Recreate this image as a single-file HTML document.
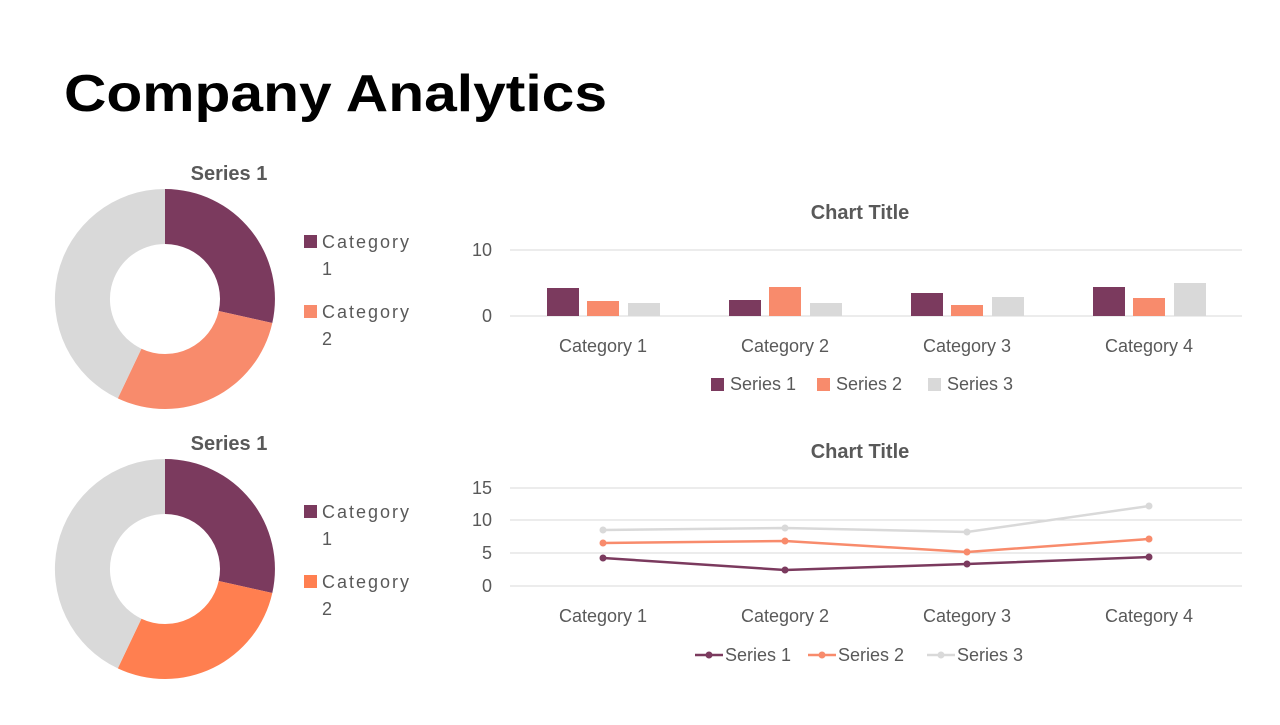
<!DOCTYPE html><html><head><meta charset="utf-8"><style>
body{margin:0;width:1280px;height:720px;background:#fff;overflow:hidden;font-family:"Liberation Sans",sans-serif}
</style></head><body>
<svg width="1280" height="720" viewBox="0 0 1280 720" xmlns="http://www.w3.org/2000/svg" font-family="Liberation Sans, sans-serif">
<text x="64" y="111" font-size="52" font-weight="bold" fill="#000" textLength="543" lengthAdjust="spacingAndGlyphs">Company Analytics</text>
<g id="d1">
<text x="229" y="180" font-size="20" font-weight="bold" fill="#595959" text-anchor="middle">Series 1</text>
<path d="M165,189 A110,110 0 0 1 272.3,323 L218.7,311 A55,55 0 0 0 165,244 Z" fill="#7B3A5E"/>
<path d="M272.3,323 A110,110 0 0 1 117.8,398.4 L141.4,348.7 A55,55 0 0 0 218.7,311 Z" fill="#F88B6C"/>
<path d="M117.8,398.4 A110,110 0 0 1 165,189 L165,244 A55,55 0 0 0 141.4,348.7 Z" fill="#D9D9D9"/>
<rect x="304" y="235" width="13" height="13" fill="#7B3A5E"/>
<text x="322" y="248" font-size="18" fill="#595959" textLength="87">Category</text>
<text x="322" y="275" font-size="18" fill="#595959">1</text>
<rect x="304" y="305" width="13" height="13" fill="#F88B6C"/>
<text x="322" y="318" font-size="18" fill="#595959" textLength="87">Category</text>
<text x="322" y="345" font-size="18" fill="#595959">2</text>
</g>
<g transform="translate(0,270)">
<text x="229" y="180" font-size="20" font-weight="bold" fill="#595959" text-anchor="middle">Series 1</text>
<path d="M165,189 A110,110 0 0 1 272.3,323 L218.7,311 A55,55 0 0 0 165,244 Z" fill="#7B3A5E"/>
<path d="M272.3,323 A110,110 0 0 1 117.8,398.4 L141.4,348.7 A55,55 0 0 0 218.7,311 Z" fill="#FF7F50"/>
<path d="M117.8,398.4 A110,110 0 0 1 165,189 L165,244 A55,55 0 0 0 141.4,348.7 Z" fill="#D9D9D9"/>
<rect x="304" y="235" width="13" height="13" fill="#7B3A5E"/>
<text x="322" y="248" font-size="18" fill="#595959" textLength="87">Category</text>
<text x="322" y="275" font-size="18" fill="#595959">1</text>
<rect x="304" y="305" width="13" height="13" fill="#FF7F50"/>
<text x="322" y="318" font-size="18" fill="#595959" textLength="87">Category</text>
<text x="322" y="345" font-size="18" fill="#595959">2</text>
</g>
<!-- bar chart -->
<text x="860" y="219" font-size="20" font-weight="bold" fill="#595959" text-anchor="middle">Chart Title</text>
<line x1="510" y1="250" x2="1242" y2="250" stroke="#D9D9D9"/>
<line x1="510" y1="316" x2="1242" y2="316" stroke="#D9D9D9"/>
<text x="492" y="256" font-size="18" fill="#595959" text-anchor="end">10</text>
<text x="492" y="322" font-size="18" fill="#595959" text-anchor="end">0</text>
<g>
<rect x="547" y="288" width="32" height="28" fill="#7B3A5E"/><rect x="587" y="301" width="32" height="15" fill="#F88B6C"/><rect x="628" y="303" width="32" height="13" fill="#D9D9D9"/>
<rect x="729" y="300" width="32" height="16" fill="#7B3A5E"/><rect x="769" y="287" width="32" height="29" fill="#F88B6C"/><rect x="810" y="303" width="32" height="13" fill="#D9D9D9"/>
<rect x="911" y="293" width="32" height="23" fill="#7B3A5E"/><rect x="951" y="305" width="32" height="11" fill="#F88B6C"/><rect x="992" y="297" width="32" height="19" fill="#D9D9D9"/>
<rect x="1093" y="287" width="32" height="29" fill="#7B3A5E"/><rect x="1133" y="298" width="32" height="18" fill="#F88B6C"/><rect x="1174" y="283" width="32" height="33" fill="#D9D9D9"/>
</g>
<g font-size="18" fill="#595959" text-anchor="middle">
<text x="603" y="352">Category 1</text><text x="785" y="352">Category 2</text><text x="967" y="352">Category 3</text><text x="1149" y="352">Category 4</text>
</g>
<rect x="711" y="378" width="13" height="13" fill="#7B3A5E"/><text x="730" y="390" font-size="18" fill="#595959">Series 1</text>
<rect x="817" y="378" width="13" height="13" fill="#F88B6C"/><text x="836" y="390" font-size="18" fill="#595959">Series 2</text>
<rect x="928" y="378" width="13" height="13" fill="#D9D9D9"/><text x="947" y="390" font-size="18" fill="#595959">Series 3</text>
<!-- line chart -->
<text x="860" y="458" font-size="20" font-weight="bold" fill="#595959" text-anchor="middle">Chart Title</text>
<g stroke="#D9D9D9">
<line x1="510" y1="488" x2="1242" y2="488"/><line x1="510" y1="520" x2="1242" y2="520"/><line x1="510" y1="553" x2="1242" y2="553"/><line x1="510" y1="586" x2="1242" y2="586"/>
</g>
<g font-size="18" fill="#595959" text-anchor="end">
<text x="492" y="494">15</text><text x="492" y="526">10</text><text x="492" y="559">5</text><text x="492" y="592">0</text>
</g>
<g fill="none" stroke-width="2.5">
<polyline points="603,530 785,528 967,532 1149,506" stroke="#D9D9D9"/>
<polyline points="603,543 785,541 967,552 1149,539" stroke="#F88B6C"/>
<polyline points="603,558 785,570 967,564 1149,557" stroke="#7B3A5E"/>
</g>
<g fill="#D9D9D9"><circle cx="603" cy="530" r="3.5"/><circle cx="785" cy="528" r="3.5"/><circle cx="967" cy="532" r="3.5"/><circle cx="1149" cy="506" r="3.5"/></g>
<g fill="#F88B6C"><circle cx="603" cy="543" r="3.5"/><circle cx="785" cy="541" r="3.5"/><circle cx="967" cy="552" r="3.5"/><circle cx="1149" cy="539" r="3.5"/></g>
<g fill="#7B3A5E"><circle cx="603" cy="558" r="3.5"/><circle cx="785" cy="570" r="3.5"/><circle cx="967" cy="564" r="3.5"/><circle cx="1149" cy="557" r="3.5"/></g>
<g font-size="18" fill="#595959" text-anchor="middle">
<text x="603" y="622">Category 1</text><text x="785" y="622">Category 2</text><text x="967" y="622">Category 3</text><text x="1149" y="622">Category 4</text>
</g>
<line x1="695" y1="655" x2="723" y2="655" stroke="#7B3A5E" stroke-width="2.5"/><circle cx="709" cy="655" r="3.5" fill="#7B3A5E"/>
<text x="725" y="661" font-size="18" fill="#595959">Series 1</text>
<line x1="808" y1="655" x2="836" y2="655" stroke="#F88B6C" stroke-width="2.5"/><circle cx="822" cy="655" r="3.5" fill="#F88B6C"/>
<text x="838" y="661" font-size="18" fill="#595959">Series 2</text>
<line x1="927" y1="655" x2="955" y2="655" stroke="#D9D9D9" stroke-width="2.5"/><circle cx="941" cy="655" r="3.5" fill="#D9D9D9"/>
<text x="957" y="661" font-size="18" fill="#595959">Series 3</text>
</svg>
</body></html>
